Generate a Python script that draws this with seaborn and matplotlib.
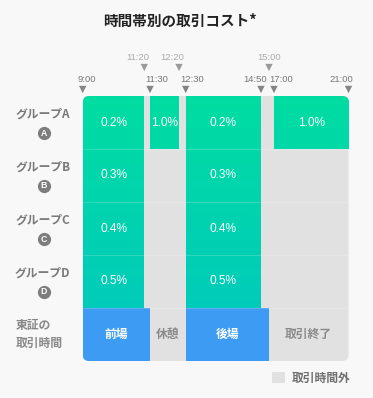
import numpy as np
import matplotlib
matplotlib.use("Agg")
import matplotlib.pyplot as plt
import matplotlib.transforms as mtransforms
from matplotlib.patches import FancyBboxPatch, Patch
from matplotlib.colors import LinearSegmentedColormap
import seaborn as sns

# ---------------- data ----------------
title = "時間帯別の取引コスト*"
groups = ["グループA", "グループB", "グループC", "グループD"]
badges = ["A", "B", "C", "D"]
tse_label = "東証の\n取引時間"

window_start = ["9:00", "11:30", "12:30", "17:00"]
window_end = ["11:20", "12:20", "14:50", "21:00"]
cost_a = [0.2, 1.0, 0.2, 1.0]
cost_b = [0.3, None, 0.3, None]
cost_c = [0.4, None, 0.4, None]
cost_d = [0.5, None, 0.5, None]
costs = [cost_a, cost_b, cost_c, cost_d]

session_names = ["前場", "休憩", "後場", "取引終了"]
session_start = ["9:00", "11:30", "12:30", "15:00"]
session_end = ["11:30", "12:30", "15:00", "21:00"]
session_open = [True, False, True, False]

tick_lower = ["9:00", "11:30", "12:30", "14:50", "17:00", "21:00"]
tick_upper = ["11:20", "12:20", "15:00"]
legend_label = "取引時間外"


def hours(s):
    h, m = s.split(":")
    return int(h) + int(m) / 60.0


# schematic (non-linear) time scale anchors
anchor_times = [hours(t) for t in ["9:00", "11:20", "11:30", "12:20", "12:30",
                                   "14:50", "15:00", "17:00", "21:00"]]
anchor_pos = [0, 61.6, 67.3, 96.3, 103, 178.3, 186.3, 191.3, 265.8]


def fwd(x):
    return np.interp(x, anchor_times, anchor_pos)


def inv(y):
    return np.interp(y, anchor_pos, anchor_times)


def mid(a, b):
    return float(inv((fwd(a) + fwd(b)) / 2))


# ---------------- style ----------------
sns.set_theme(style="white")
plt.rcParams["font.family"] = ["Noto Sans CJK JP", "DejaVu Sans"]
NUMFONT = ["Liberation Sans", "DejaVu Sans"]

BG = "#f8f8f8"
PANEL = "#e1e1e1"
BLUE = "#3d9bf3"
LABEL = "#7a7a7a"

W, H = 373, 398
fig = plt.figure(figsize=(W / 100, H / 100), dpi=100, facecolor=BG)

x0, x1 = 82.7, 348.5
y0, y1 = 96, 361
ax = fig.add_axes([x0 / W, 1 - y1 / H, (x1 - x0) / W, (y1 - y0) / H])
ax.set_xscale("function", functions=(fwd, inv))
ax.set_xlim(9, 21)
ax.set_ylim(5, 0)
ax.axis("off")

panel = FancyBboxPatch((0, 0), 1, 1, boxstyle="round,pad=0,rounding_size=0.024",
                       transform=ax.transAxes, facecolor=PANEL, edgecolor="none",
                       zorder=0)
ax.add_patch(panel)

# green gradient mesh for cost windows
x_edges = sorted(set([hours(t) for t in window_start + window_end] + [9.0, 21.0]))
n_sub = 30
y_edges = np.linspace(0, len(groups), len(groups) * n_sub + 1)
y_cent = (y_edges[:-1] + y_edges[1:]) / 2
C = np.ma.masked_all((len(y_cent), len(x_edges) - 1))
for r, row_costs in enumerate(costs):
    for s, e, c in zip(window_start, window_end, row_costs):
        if c is None:
            continue
        hs, he = hours(s), hours(e)
        for j in range(len(x_edges) - 1):
            if x_edges[j] >= hs - 1e-9 and x_edges[j + 1] <= he + 1e-9:
                rows = (y_cent > r) & (y_cent < r + 1)
                C[rows, j] = y_cent[rows]
cmap = LinearSegmentedColormap.from_list("g", ["#00dca1", "#00cbb9"])
mesh = ax.pcolormesh(x_edges, y_edges, C, cmap=cmap, vmin=0, vmax=4,
                     shading="flat", zorder=1)
mesh.set_clip_path(panel)

# cost labels
for r, row_costs in enumerate(costs):
    for s, e, c in zip(window_start, window_end, row_costs):
        if c is None:
            continue
        ax.text(mid(hours(s), hours(e)), r + 0.5, f"{c:.1f}%", color="white",
                ha="center", va="center", fontsize=8.6, family=NUMFONT, zorder=5)

# TSE sessions
tse_row = len(groups) + 0.5
for name, s, e, op in zip(session_names, session_start, session_end, session_open):
    hs, he = hours(s), hours(e)
    if op:
        bars = ax.barh(tse_row, he - hs, left=hs, height=1, color=BLUE,
                       edgecolor="none", zorder=2)
        for b in bars:
            b.set_clip_path(panel)
    ax.text(mid(hs, he), tse_row, name, ha="center", va="center", fontsize=8.5,
            color="white" if op else "#8a8a8a", fontweight="bold", zorder=5)

# faint row separators
lines = ax.hlines([1, 2, 3, 4], 9, 21, color="white", alpha=0.18, lw=0.8, zorder=3)
lines.set_clip_path(panel)

# row labels
blend = mtransforms.blended_transform_factory(ax.transAxes, ax.transData)
for r, (g, b) in enumerate(zip(groups, badges)):
    ax.annotate(g, xy=(0, r + 0.5), xycoords=blend, xytext=(-40, 8),
                textcoords="offset pixels", ha="center", va="center",
                fontsize=8.5, fontweight="bold", color=LABEL, annotation_clip=False)
    ax.plot([0], [r + 0.5], transform=blend + mtransforms.ScaledTranslation(-39 / 100, -10 / 100, fig.dpi_scale_trans),
            marker="o", ms=9.5, color="#7d7d7d", clip_on=False, mec="none")
    ax.annotate(b, xy=(0, r + 0.5), xycoords=blend, xytext=(-39, -10.5),
                textcoords="offset pixels", ha="center", va="center",
                fontsize=6.3, fontweight="bold", color="white", family=NUMFONT,
                annotation_clip=False)
ax.annotate(tse_label, xy=(0, tse_row), xycoords=blend, xytext=(-67, 0),
            textcoords="offset pixels", ha="left", va="center", fontsize=8.5,
            fontweight="bold", color="#888888", linespacing=1.45,
            annotation_clip=False)

# time ticks (top strip)
axt = fig.add_axes([x0 / W, 1 - 96 / H, (x1 - x0) / W, 46 / H], sharex=ax)
axt.set_ylim(96, 50)
axt.axis("off")
lower_x = [hours(t) for t in tick_lower]
upper_x = [hours(t) for t in tick_upper]
sns.scatterplot(x=lower_x, y=[89.5] * len(lower_x), marker="v", s=28, color="#858585",
                edgecolor="none", ax=axt, legend=False, clip_on=False)
sns.scatterplot(x=upper_x, y=[67.5] * len(upper_x), marker="v", s=28, color="#9a9a9a",
                edgecolor="none", ax=axt, legend=False, clip_on=False)
lower_align = [("left", -5), ("left", -4.5), ("left", -5), ("right", 5.5), ("left", -5), ("right", 5)]
upper_align = [("right", 5), ("right", 5.5), ("center", 0)]
for t, x, (ha, dx) in zip(tick_lower, lower_x, lower_align):
    axt.annotate(t, xy=(x, 79), xytext=(dx, 0), textcoords="offset pixels",
                 ha=ha, va="center", fontsize=6.8, family=NUMFONT, color="#777777",
                 annotation_clip=False)
for t, x, (ha, dx) in zip(tick_upper, upper_x, upper_align):
    axt.annotate(t, xy=(x, 58), xytext=(dx, 0), textcoords="offset pixels",
                 ha=ha, va="center", fontsize=6.8, family=NUMFONT, color="#aaaaaa",
                 annotation_clip=False)

# title
fig.text(180 / W, 1 - 21 / H, title, ha="center", va="center", fontsize=10.5,
         fontweight="bold", color="#222222")

# legend
fig.legend(handles=[Patch(facecolor=PANEL, edgecolor="none", label=legend_label)],
           loc="center right", bbox_to_anchor=(351 / W, 1 - 378 / H),
           frameon=False, handlelength=1.1, handleheight=1.1, handletextpad=0.6,
           borderpad=0, borderaxespad=0,
           prop={"weight": "bold", "size": 8.5}, labelcolor="#6f6f6f")

fig.savefig("out.png", dpi=100, facecolor=BG)
